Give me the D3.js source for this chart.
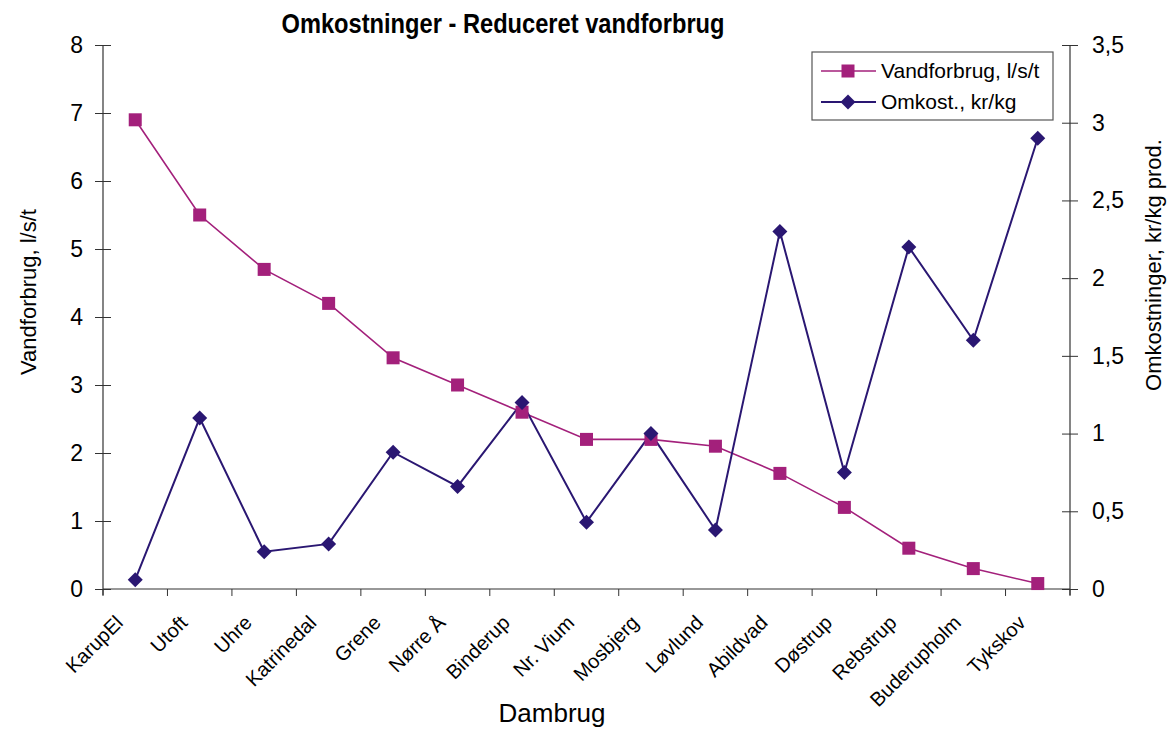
<!DOCTYPE html>
<html>
<head>
<meta charset="utf-8">
<script src="https://cdn.jsdelivr.net/npm/d3@7"></script>
<style>
  body { margin: 0; background: #fff; }
  svg text { font-family: "Liberation Sans", Arial, sans-serif; fill: #000; }
</style>
</head>
<body>
<svg width="1171" height="729"></svg>
<script>
// data
var dambrug = ['KarupEl', 'Utoft', 'Uhre', 'Katrinedal', 'Grene', 'Nørre Å', 'Binderup', 'Nr. Vium',
    'Mosbjerg', 'Løvlund', 'Abildvad', 'Døstrup', 'Rebstrup', 'Buderupholm', 'Tykskov']
var vandforbrug = [6.9, 5.5, 4.7, 4.2, 3.4, 3.0, 2.6, 2.2, 2.2, 2.1, 1.7, 1.2, 0.6, 0.3, 0.08]
var omkost = [0.06, 1.1, 0.24, 0.29, 0.88, 0.66, 1.2, 0.43, 1.0, 0.38, 2.3, 0.75, 2.2, 1.6, 2.9]
var leftTicks = [0, 1, 2, 3, 4, 5, 6, 7, 8]
var rightTicks = [0, 0.5, 1, 1.5, 2, 2.5, 3, 3.5]

var magenta = '#a3207b'
var navy = '#2a1772'
var axisColor = '#333'

var plotLeft = 103, plotRight = 1070, plotTop = 45, plotBottom = 589

var svg = d3.select('svg')

var x = d3.scaleBand().domain(dambrug).range([plotLeft, plotRight])
var yL = d3.scaleLinear().domain([0, 8]).range([plotBottom, plotTop])
var yR = d3.scaleLinear().domain([0, 3.5]).range([plotBottom, plotTop])
var cx = function(d){ return x(d) + x.bandwidth() / 2 }

// left axis
var gL = svg.append('g').attr('transform', 'translate(' + plotLeft + ',0)')
    .call(d3.axisLeft(yL).tickValues(leftTicks).tickSize(8).tickFormat(d3.format('d')))
gL.selectAll('.tick line').attr('x2', 8).attr('x1', -8)
gL.selectAll('.tick text').attr('x', -20)

// right axis
var gR = svg.append('g').attr('transform', 'translate(' + plotRight + ',0)')
    .call(d3.axisRight(yR).tickValues(rightTicks).tickSize(8)
        .tickFormat(function(d){ return String(d).replace('.', ',') }))
gR.selectAll('.tick line').attr('x1', -8).attr('x2', 8)
gR.selectAll('.tick text').attr('x', 22)

;[gL, gR].forEach(function(g){
    g.select('.domain').remove()
    g.selectAll('.tick line').attr('stroke', axisColor)
    g.selectAll('.tick text').style('font-size', '23px').attr('fill', '#000')
})
svg.append('line').attr('x1', plotLeft).attr('x2', plotLeft).attr('y1', plotTop).attr('y2', plotBottom + 6)
    .attr('stroke', axisColor).attr('stroke-width', 1.2)
svg.append('line').attr('x1', plotRight).attr('x2', plotRight).attr('y1', plotTop).attr('y2', plotBottom + 6)
    .attr('stroke', axisColor).attr('stroke-width', 1.2)

// x axis
svg.append('line').attr('x1', plotLeft).attr('x2', plotRight).attr('y1', plotBottom).attr('y2', plotBottom)
    .attr('stroke', axisColor).attr('stroke-width', 1.2)
var edges = dambrug.map(function(d){ return x(d) }).concat([plotRight])
svg.selectAll('.xtick').data(edges).enter().append('line')
    .attr('x1', function(d){ return d }).attr('x2', function(d){ return d })
    .attr('y1', plotBottom).attr('y2', plotBottom + 7)
    .attr('stroke', axisColor)

svg.selectAll('.xlabel').data(dambrug).enter().append('text')
    .attr('transform', function(d){ return 'translate(' + (cx(d) - 11) + ',' + 624 + ') rotate(-45)' })
    .attr('text-anchor', 'end')
    .style('font-size', '20px')
    .text(function(d){ return d })

// lines
var lineV = d3.line().x(function(d, i){ return cx(dambrug[i]) }).y(function(d){ return yL(d) })
var lineO = d3.line().x(function(d, i){ return cx(dambrug[i]) }).y(function(d){ return yR(d) })

svg.append('path').datum(vandforbrug).attr('d', lineV)
    .attr('fill', 'none').attr('stroke', magenta).attr('stroke-width', 1.6)
svg.append('path').datum(omkost).attr('d', lineO)
    .attr('fill', 'none').attr('stroke', navy).attr('stroke-width', 2)

var sq = 13
svg.selectAll('.sq').data(vandforbrug).enter().append('rect')
    .attr('x', function(d, i){ return cx(dambrug[i]) - sq / 2 })
    .attr('y', function(d){ return yL(d) - sq / 2 })
    .attr('width', sq).attr('height', sq)
    .attr('fill', magenta)

var diamond = 'M0,-7.5L7.5,0L0,7.5L-7.5,0Z'
svg.selectAll('.dm').data(omkost).enter().append('path')
    .attr('d', diamond)
    .attr('transform', function(d, i){ return 'translate(' + cx(dambrug[i]) + ',' + yR(d) + ')' })
    .attr('fill', navy)

// titles
svg.append('text').attr('x', 503).attr('y', 33).attr('text-anchor', 'middle')
    .style('font-size', '28px').style('font-weight', 'bold')
    .attr('textLength', 443).attr('lengthAdjust', 'spacingAndGlyphs')
    .text('Omkostninger - Reduceret vandforbrug')

svg.append('text').attr('transform', 'translate(36,292) rotate(-90)')
    .attr('text-anchor', 'middle').style('font-size', '22px')
    .text('Vandforbrug, l/s/t')

svg.append('text').attr('transform', 'translate(1161,265) rotate(-90)')
    .attr('text-anchor', 'middle').style('font-size', '22px')
    .text('Omkostninger, kr/kg prod.')

svg.append('text').attr('x', 552).attr('y', 722).attr('text-anchor', 'middle')
    .style('font-size', '26px')
    .text('Dambrug')

// legend
var leg = svg.append('g')
leg.append('rect').attr('x', 812).attr('y', 52).attr('width', 241).attr('height', 68)
    .attr('fill', '#fff').attr('stroke', '#555').attr('stroke-width', 1.2)
var legItems = [
    {name: 'Vandforbrug, l/s/t', color: magenta, shape: 'sq', y: 71},
    {name: 'Omkost., kr/kg', color: navy, shape: 'dm', y: 102}
]
legItems.forEach(function(it){
    leg.append('line').attr('x1', 821).attr('x2', 876).attr('y1', it.y).attr('y2', it.y)
        .attr('stroke', it.color).attr('stroke-width', it.shape === 'sq' ? 1.6 : 2)
    if (it.shape === 'sq') {
        leg.append('rect').attr('x', 848 - sq / 2).attr('y', it.y - sq / 2)
            .attr('width', sq).attr('height', sq).attr('fill', it.color)
    } else {
        leg.append('path').attr('d', diamond)
            .attr('transform', 'translate(848,' + it.y + ')').attr('fill', it.color)
    }
    leg.append('text').attr('x', 881).attr('y', it.y + 7).style('font-size', '21px').text(it.name)
})
</script>
</body>
</html>
